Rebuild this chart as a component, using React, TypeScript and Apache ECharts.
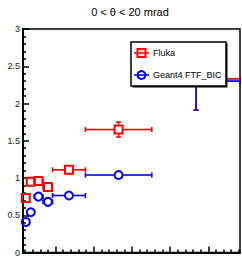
import React, { useEffect, useRef } from "react";
import * as echarts from "echarts";

const xCenters = [0.22, 0.35, 0.55, 0.8, 1.35, 2.65, 4.68];
const xLow = [0.15, 0.28, 0.44, 0.67, 0.92, 1.78, 3.52];
const xHigh = [0.28, 0.44, 0.67, 0.92, 1.78, 3.52, 5.83];
const fluka = [0.73, 0.95, 0.96, 0.88, 1.11, 1.65, 2.33];
const flukaErr = [0.03, 0.03, 0.03, 0.03, 0.045, 0.1, 0.42];
const geant = [0.41, 0.54, 0.75, 0.68, 0.765, 1.04, 2.3];
const geantErr = [0.02, 0.02, 0.02, 0.02, 0.03, 0.04, 0.39];
const yTicks = [0, 0.5, 1, 1.5, 2, 2.5, 3];
const xMajor = [1, 2, 3, 4, 5];
const xMinor = [0.2, 0.4, 0.6, 0.8, 1.2, 1.4, 1.6, 1.8, 2.2, 2.4, 2.6, 2.8, 3.2, 3.4, 3.6, 3.8, 4.2, 4.4, 4.6, 4.8, 5.2, 5.4, 5.6, 5.8];
const title = "0 < θ < 20 mrad";
const seriesNames = ["Fluka", "Geant4 FTF_BIC"];

const X_MIN = 0.146;
const X_MAX = 5.83;
const FONT = "Liberation Sans, Arial, sans-serif";

function build(vals: number[], errs: number[]) {
  return xCenters.map((x, i) => [x, vals[i], xLow[i], xHigh[i], errs[i]]);
}

function makeRender(color: string, marker: "square" | "circle") {
  return (params: any, api: any) => {
    const x = api.value(0);
    const y = api.value(1);
    const xl = api.value(2);
    const xh = api.value(3);
    const ye = api.value(4);
    const c = api.coord([x, y]);
    const pl = api.coord([xl, y]);
    const ph = api.coord([xh, y]);
    const pb = api.coord([x, y - ye]);
    const pt = api.coord([x, y + ye]);
    const r = 4;
    const cap = 2.5;
    const st = { stroke: color, lineWidth: 1.6 };
    const ch: any[] = [];
    const ln = (x1: number, y1: number, x2: number, y2: number) =>
      ch.push({ type: "line", shape: { x1, y1, x2, y2 }, style: st });
    if (c[0] - r > pl[0]) {
      ln(pl[0], c[1], c[0] - r, c[1]);
      ln(pl[0], c[1] - cap, pl[0], c[1] + cap);
    }
    if (ph[0] > c[0] + r) {
      ln(c[0] + r, c[1], ph[0], c[1]);
      ln(ph[0], c[1] - cap, ph[0], c[1] + cap);
    }
    if (pb[1] > c[1] + r) {
      ln(c[0], c[1] + r, c[0], pb[1]);
      ln(c[0] - cap, pb[1], c[0] + cap, pb[1]);
    }
    if (pt[1] < c[1] - r) {
      ln(c[0], c[1] - r, c[0], pt[1]);
      ln(c[0] - cap, pt[1], c[0] + cap, pt[1]);
    }
    if (marker === "square") {
      ch.push({
        type: "rect",
        shape: { x: c[0] - r, y: c[1] - r, width: 2 * r, height: 2 * r },
        style: { stroke: color, lineWidth: 2, fill: "none" },
      });
    } else {
      ch.push({
        type: "circle",
        shape: { cx: c[0], cy: c[1], r },
        style: { stroke: color, lineWidth: 2, fill: "none" },
      });
    }
    return { type: "group", children: ch };
  };
}

export default function App() {
  const ref = useRef<HTMLDivElement>(null);
  useEffect(() => {
    if (!ref.current) return;
    const chart = echarts.init(ref.current, null, { renderer: "svg" });
    const lx = 131;
    const ly = 42;
    const option: any = {
      animation: false,
      grid: {
        left: 23,
        right: 2,
        top: 29,
        bottom: 3,
        show: true,
        borderColor: "#000",
        borderWidth: 1.5,
        backgroundColor: "transparent",
      },
      xAxis: [
        {
          type: "value",
          min: X_MIN,
          max: X_MAX,
          axisLine: { show: true, lineStyle: { color: "#000", width: 2 } },
          axisTick: { show: true, inside: true, length: 6, customValues: xMajor, lineStyle: { color: "#000", width: 1.5 } },
          axisLabel: { show: false },
          splitLine: { show: false },
        },
        {
          type: "value",
          min: X_MIN,
          max: X_MAX,
          position: "bottom",
          axisLine: { show: false },
          axisTick: { show: true, inside: true, length: 3, customValues: xMinor, lineStyle: { color: "#000", width: 1.5 } },
          axisLabel: { show: false },
          splitLine: { show: false },
        },
      ],
      yAxis: {
        type: "value",
        min: 0,
        max: 3,
        interval: 0.5,
        axisLine: { show: true, lineStyle: { color: "#000", width: 2 } },
        axisTick: { show: true, inside: true, length: 6, lineStyle: { color: "#000", width: 1.5 } },
        minorTick: { show: true, splitNumber: 5, length: 3, lineStyle: { color: "#000", width: 1.5 } },
        splitLine: { show: false },
        axisLabel: {
          show: true,
          margin: 3,
          fontSize: 9,
          fontFamily: FONT,
          color: "#222",
          customValues: yTicks,
          formatter: (v: number) => String(v),
        },
      },
      series: [
        {
          name: seriesNames[0],
          type: "custom",
          xAxisIndex: 0,
          clip: false,
          renderItem: makeRender("#ff0000", "square"),
          data: build(fluka, flukaErr),
          z: 2,
        },
        {
          name: seriesNames[1],
          type: "custom",
          xAxisIndex: 0,
          clip: false,
          renderItem: makeRender("#0000ff", "circle"),
          data: build(geant, geantErr),
          z: 3,
        },
      ],
      graphic: [
        {
          type: "text",
          x: 130,
          y: 12,
          z: 100,
          style: { text: title, fontSize: 11, fontFamily: FONT, fill: "#000", align: "center", verticalAlign: "middle" },
        },
        {
          type: "rect",
          z: 100,
          shape: { x: lx + 1.5, y: ly + 1.5, width: 95, height: 44 },
          style: { fill: "#000" },
        },
        {
          type: "rect",
          z: 101,
          shape: { x: lx, y: ly, width: 95, height: 44 },
          style: { fill: "#fff", stroke: "#000", lineWidth: 1.5 },
        },
        { type: "line", z: 102, shape: { x1: lx + 3, y1: 53, x2: lx + 18, y2: 53 }, style: { stroke: "#ff0000", lineWidth: 1.6 } },
        { type: "rect", z: 103, shape: { x: lx + 6.5, y: 49, width: 8, height: 8 }, style: { stroke: "#ff0000", lineWidth: 2, fill: "none" } },
        {
          type: "text",
          z: 103,
          x: lx + 22,
          y: 53,
          style: { text: seriesNames[0], fontSize: 9, fontFamily: FONT, fill: "#000", verticalAlign: "middle" },
        },
        { type: "line", z: 102, shape: { x1: lx + 3, y1: 75, x2: lx + 18, y2: 75 }, style: { stroke: "#0000ff", lineWidth: 1.6 } },
        { type: "circle", z: 103, shape: { cx: lx + 10.5, cy: 75, r: 4 }, style: { stroke: "#0000ff", lineWidth: 2, fill: "none" } },
        {
          type: "text",
          z: 103,
          x: lx + 22,
          y: 75,
          style: { text: seriesNames[1], fontSize: 9, fontFamily: FONT, fill: "#000", verticalAlign: "middle" },
        },
      ],
    };
    chart.setOption(option);
    return () => chart.dispose();
  }, []);
  return (
    <div
      ref={ref}
      style={{ position: "fixed", left: 0, top: 0, width: 242, height: 257, background: "#fff" }}
    />
  );
}
